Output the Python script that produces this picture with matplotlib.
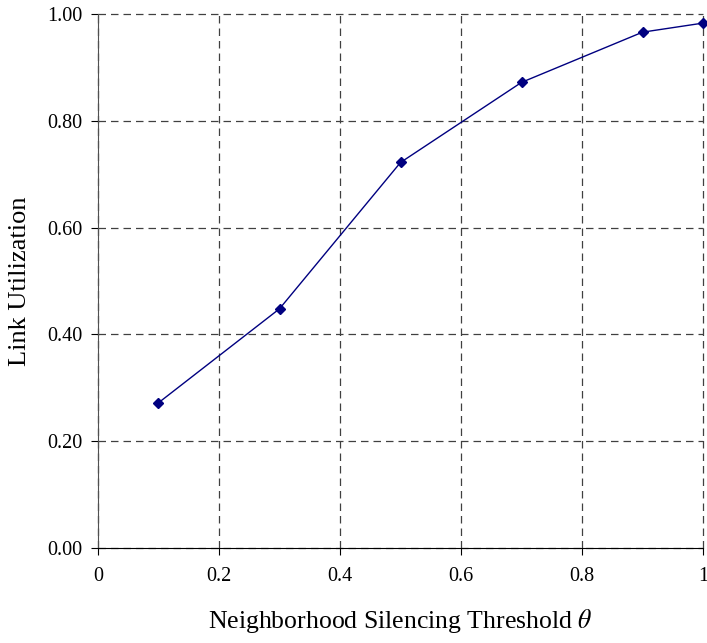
import numpy as np
import matplotlib.pyplot as plt

# threshold values and measured link utilization
theta = [0.1, 0.3, 0.5, 0.7, 0.9, 1.0]
utilization = [0.272, 0.448, 0.722, 0.872, 0.966, 0.983]

x_ticks = [0, 0.2, 0.4, 0.6, 0.8, 1]
x_labels = ['0', '0.2', '0.4', '0.6', '0.8', '1']
y_ticks = [0.0, 0.2, 0.4, 0.6, 0.8, 1.0]

plt.rcParams['font.family'] = ['Liberation Serif', 'DejaVu Serif']
plt.rcParams['mathtext.fontset'] = 'stix'

fig = plt.figure(figsize=(7.07, 6.43), dpi=100)
ax = fig.add_axes([0.1386, 0.1477, 0.8558, 0.8305])

ax.plot(theta, utilization, color='#000080', linewidth=1.0,
        marker='D', markersize=5, markerfacecolor='#000080',
        markeredgecolor='#000080', clip_on=False, zorder=3)

ax.set_xlim(0, 1)
ax.set_ylim(0, 1)
ax.set_xticks(x_ticks)
ax.set_xticklabels(x_labels)
ax.set_yticks(y_ticks)
ax.set_yticklabels(['%.2f' % v for v in y_ticks])

ax.grid(True, color='#404040', linestyle=(0, (6, 4)), linewidth=0.9)
for gl in ax.get_xgridlines() + ax.get_ygridlines():
    gl.set_clip_on(False)
ax.spines['top'].set_visible(False)
ax.spines['right'].set_visible(False)
ax.spines['left'].set_color('#505050')
ax.spines['bottom'].set_color('black')
ax.tick_params(direction='out', length=5, labelsize=14.5)
ax.tick_params(axis='x', pad=9)
ax.tick_params(axis='y', pad=6)

ax.set_xlabel(r'Neighborhood Silencing Threshold $\theta$', fontsize=18.5, labelpad=15)
ax.set_ylabel('Link Utilization', fontsize=19, labelpad=12)

fig.savefig('out.png', dpi=100)
